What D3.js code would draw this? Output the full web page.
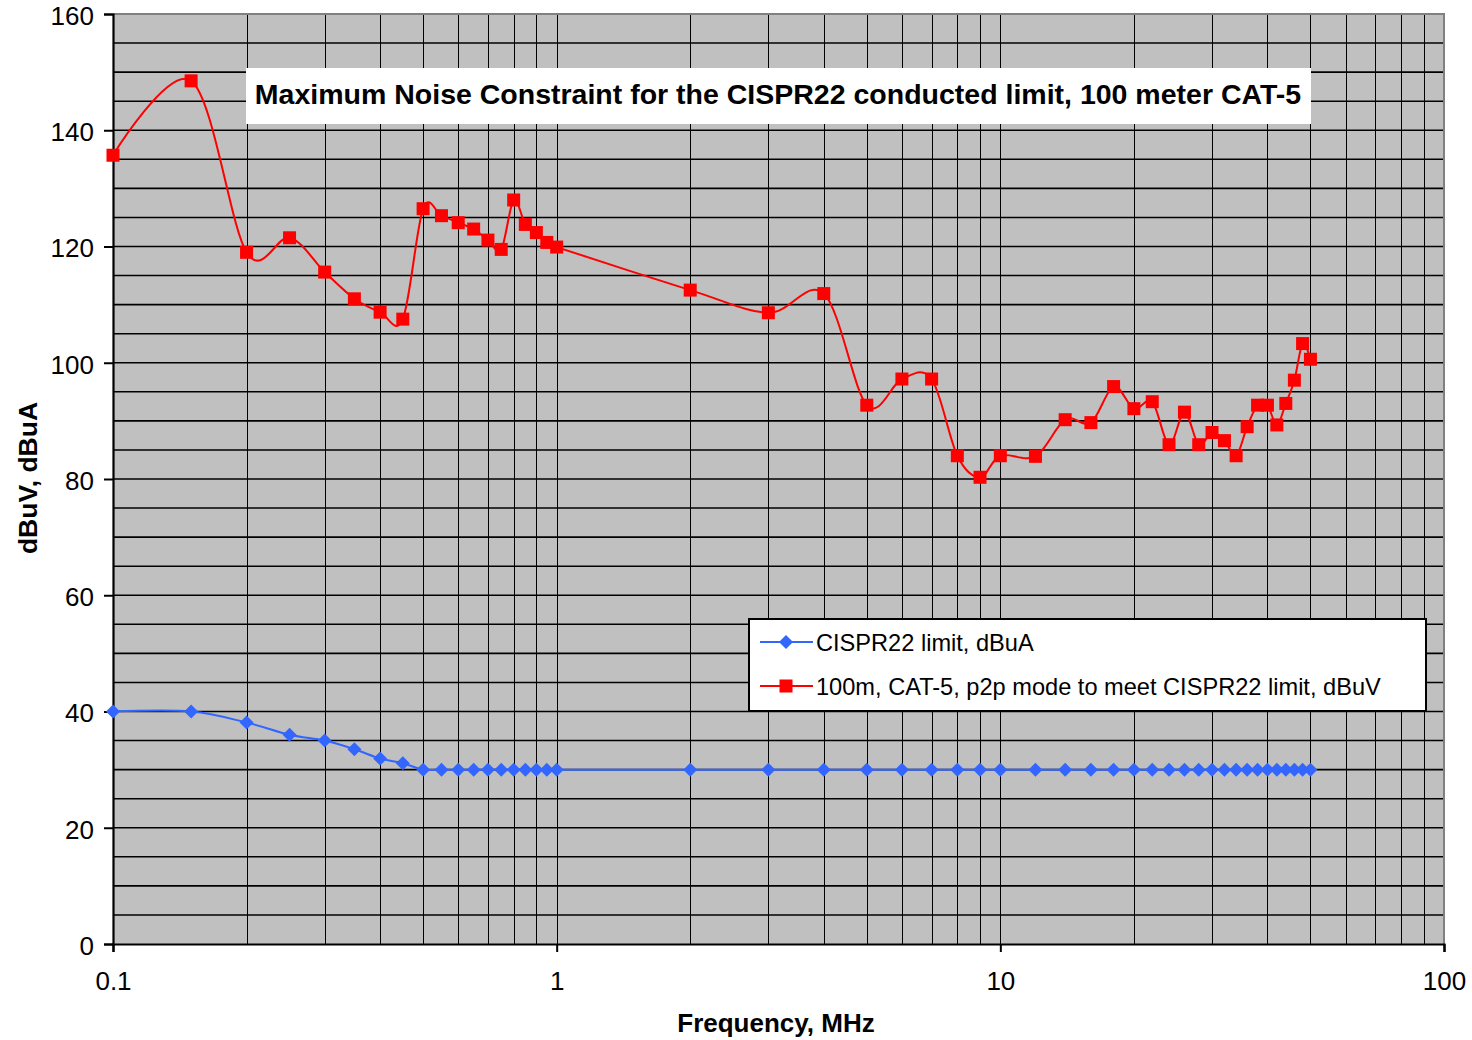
<!DOCTYPE html>
<html>
<head>
<meta charset="utf-8">
<script src="https://cdn.jsdelivr.net/npm/d3@7"></script>
<style>
html,body{margin:0;padding:0;background:#fff;}
svg{display:block;font-family:"Liberation Sans",Arial,sans-serif;}
</style>
</head>
<body>
<svg id="chart" width="1472" height="1040"></svg>
<script>
// ---- data ----
const frequencies = [0.1,0.15,0.2,0.25,0.3,0.35,0.4,0.45,0.5,0.55,0.6,0.65,0.7,0.75,0.8,0.85,0.9,0.95,1,
  2,3,4,5,6,7,8,9,10,
  12,14,16,18,20,22,24,26,28,30,32,34,36,38,40,42,44,46,48,50];
const cisprLimit = [40,40,38.1,36,35,33.5,31.9,31.1,30,30,30,30,30,30,30,30,30,30,30,
  30,30,30,30,30,30,30,30,30,
  30,30,30,30,30,30,30,30,30,30,30,30,30,30,30,30,30,30,30,30];
const cat5Noise = [135.7,148.5,119.0,121.5,115.6,111.0,108.7,107.5,126.5,125.3,124.1,123.0,121.1,119.5,128.0,123.8,122.4,120.7,119.9,
  112.5,108.6,111.9,92.7,97.2,97.2,84.0,80.3,84.0,
  83.9,90.2,89.7,95.9,92.1,93.3,85.9,91.5,85.9,88.0,86.6,84.0,89.0,92.7,92.7,89.3,93.0,97.0,103.3,100.6];
const seriesNames = ["CISPR22 limit, dBuA","100m, CAT-5, p2p mode to meet CISPR22 limit, dBuV"];
const xTickValues = [0.1,1,10,100];
const xTickLabels = ["0.1","1","10","100"];
const yTickValues = [0,20,40,60,80,100,120,140,160];
const chartTitle = "Maximum Noise Constraint for the CISPR22 conducted limit, 100 meter CAT-5";
const xTitle = "Frequency, MHz";
const yTitle = "dBuV, dBuA";

// ---- layout ----
const L = 113, R = 1444, T = 14, B = 944;
const svg = d3.select("#chart");
const x = d3.scaleLog().domain([0.1,100]).range([L,R]);
const y = d3.scaleLinear().domain([0,160]).range([B,T]);

svg.append("rect").attr("x",L).attr("y",T).attr("width",R-L).attr("height",B-T).attr("fill","#C0C0C0");

// vertical gridlines (log minor)
const vGrid = [];
[0.1,1,10].forEach(d => { for (let k=1;k<=9;k++){ const v=d*k; if (v>0.1 && v<100) vGrid.push(v);} });
svg.append("g").selectAll("line").data(vGrid).join("line")
  .attr("x1",d=>Math.round(x(d))+0.5).attr("x2",d=>Math.round(x(d))+0.5)
  .attr("y1",T).attr("y2",B).attr("stroke","#000").attr("stroke-width",1);

// horizontal gridlines every 5
const hGrid = d3.range(5,160,5);
svg.append("g").selectAll("line").data(hGrid).join("line")
  .attr("x1",L).attr("x2",R).attr("y1",d=>y(d)).attr("y2",d=>y(d))
  .attr("stroke","#000").attr("stroke-width",1.6);

// top/right border
svg.append("path").attr("d",`M${L},${T}H${R}V${B}`).attr("fill","none").attr("stroke","#808080").attr("stroke-width",2);

// axes
const yAxis = svg.append("g").attr("transform",`translate(${L},0)`)
  .call(d3.axisLeft(y).tickValues(yTickValues).tickSize(9).tickPadding(10).tickFormat(d3.format("d")));
const xAxis = svg.append("g").attr("transform",`translate(0,${B})`)
  .call(d3.axisBottom(x).tickValues(xTickValues).tickSize(8).tickPadding(20).tickFormat((d,i)=>xTickLabels[i]));
[yAxis,xAxis].forEach(a=>{
  a.select(".domain").attr("stroke","#000").attr("stroke-width",2.2);
  a.selectAll(".tick line").attr("stroke","#000").attr("stroke-width",2);
  a.selectAll(".tick text").attr("fill","#000").style("font-size","26px").style("font-family","Liberation Sans, Arial, sans-serif");
});
yAxis.selectAll(".tick text").attr("dy","0.4em");

// series
const blue = "#3366FF", red = "#FF0000";
const ptsBlue = frequencies.map((f,i)=>[x(f),y(cisprLimit[i])]);
const ptsRed = frequencies.map((f,i)=>[x(f),y(cat5Noise[i])]);

svg.append("path").attr("d",d3.line().curve(d3.curveCatmullRom.alpha(0))(ptsBlue))
  .attr("fill","none").attr("stroke",blue).attr("stroke-width",2);
const diamond = s => `M0,${-s}L${s},0L0,${s}L${-s},0Z`;
svg.append("g").selectAll("path").data(ptsBlue).join("path")
  .attr("transform",d=>`translate(${d[0]},${d[1]})`).attr("d",diamond(7)).attr("fill",blue);

svg.append("path").attr("d",d3.line().curve(d3.curveCatmullRom.alpha(0))(ptsRed))
  .attr("fill","none").attr("stroke",red).attr("stroke-width",2);
svg.append("g").selectAll("rect").data(ptsRed).join("rect")
  .attr("x",d=>d[0]-6.5).attr("y",d=>d[1]-6.5).attr("width",13).attr("height",13).attr("fill",red);

// title box
svg.append("rect").attr("x",246).attr("y",68).attr("width",1065).attr("height",56).attr("fill","#fff");
svg.append("text").attr("x",778).attr("y",94).attr("text-anchor","middle").attr("dominant-baseline","central")
  .style("font-size","28.5px").style("font-weight","bold").attr("fill","#000").text(chartTitle);

// axis titles
svg.append("text").attr("x",776).attr("y",1023).attr("text-anchor","middle").attr("dominant-baseline","central")
  .style("font-size","26px").style("font-weight","bold").text(xTitle);
svg.append("text").attr("transform","translate(28,478) rotate(-90)").attr("text-anchor","middle").attr("dominant-baseline","central")
  .style("font-size","26.5px").style("font-weight","bold").text(yTitle);

// legend
const lg = svg.append("g");
lg.append("rect").attr("x",749).attr("y",619).attr("width",677).attr("height",92).attr("fill","#fff").attr("stroke","#000").attr("stroke-width",2);
const rows = [{y:642,color:blue,mk:"d"},{y:686,color:red,mk:"s"}];
rows.forEach((r,i)=>{
  lg.append("line").attr("x1",760).attr("x2",813).attr("y1",r.y).attr("y2",r.y).attr("stroke",r.color).attr("stroke-width",2);
  if (r.mk==="d") lg.append("path").attr("transform",`translate(786,${r.y})`).attr("d",diamond(7)).attr("fill",r.color);
  else lg.append("rect").attr("x",786-6.5).attr("y",r.y-6.5).attr("width",13).attr("height",13).attr("fill",r.color);
  lg.append("text").attr("x",816).attr("y",r.y+1).attr("dominant-baseline","central").style("font-size","23.6px").text(seriesNames[i]);
});
</script>
</body>
</html>
